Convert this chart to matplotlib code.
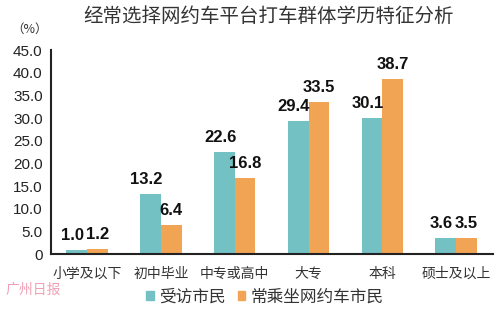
import matplotlib.pyplot as plt
from matplotlib.patches import Patch

plt.rcParams['font.family'] = ['Noto Sans CJK SC', 'DejaVu Sans']

categories = ['小学及以下', '初中毕业', '中专或高中', '大专', '本科', '硕士及以上']
interviewed = [1.0, 13.2, 22.6, 29.4, 30.1, 3.6]
frequent = [1.2, 6.4, 16.8, 33.5, 38.7, 3.5]
series_names = ['受访市民', '常乘坐网约车市民']
yticks = [0, 5, 10, 15, 20, 25, 30, 35, 40, 45]

teal = '#74c1c3'
orange = '#f2a455'
num_font = ['Liberation Sans', 'Noto Sans CJK SC']

fig = plt.figure(figsize=(5, 3.11), dpi=100)
ax = fig.add_axes([0.102, 0.183, 0.884, 0.656])

x = list(range(len(categories)))
w = 0.28
bars1 = ax.bar([i - w / 2 for i in x], interviewed, width=w, color=teal)
bars2 = ax.bar([i + w / 2 for i in x], frequent, width=w, color=orange)

# value labels above bars
for bars, vals, dx in [(bars1, interviewed, -3), (bars2, frequent, 0)]:
    for b, v in zip(bars, vals):
        ax.annotate(f'{v:.1f}', (b.get_x() + b.get_width() / 2, v),
                    xytext=(dx, 5), textcoords='offset points',
                    ha='center', va='bottom', fontsize=12, fontweight='bold',
                    family=num_font, color='#111111')

ax.set_xlim(-0.49, 5.5)
ax.set_ylim(0, 45)
ax.set_yticks(yticks)
ax.set_yticklabels(['0'] + [f'{t:.1f}' for t in yticks[1:]], family=num_font,
                   fontsize=11, color='#222222')
ax.set_xticks(x)
ax.set_xticklabels(categories, fontsize=10, color='#333333')
ax.tick_params(axis='both', length=0)
ax.tick_params(axis='y', pad=6)
ax.tick_params(axis='x', pad=9)
for s in ['top', 'right']:
    ax.spines[s].set_visible(False)
for s in ['left', 'bottom']:
    ax.spines[s].set_linewidth(1.5)
    ax.spines[s].set_color('#222222')

fig.text(0.538, 0.948, '经常选择网约车平台打车群体学历特征分析', ha='center', va='center',
         fontsize=14, color='#333333', fontweight='medium')
fig.text(0.06, 0.905, '（%）', ha='center', va='center', fontsize=9, color='#333333')
fig.text(0.066, 0.068, '广州日报', ha='center', va='center', fontsize=10,
         color='#f0a0b4', style='italic')

handles = [Patch(color=teal), Patch(color=orange)]
fig.legend(handles, series_names, loc='center', bbox_to_anchor=(0.53, 0.045),
           ncol=2, frameon=False, fontsize=12, handlelength=0.45, handleheight=0.45,
           handletextpad=0.35, columnspacing=0.7, labelcolor='#333333')

fig.savefig('out.png', dpi=100)
